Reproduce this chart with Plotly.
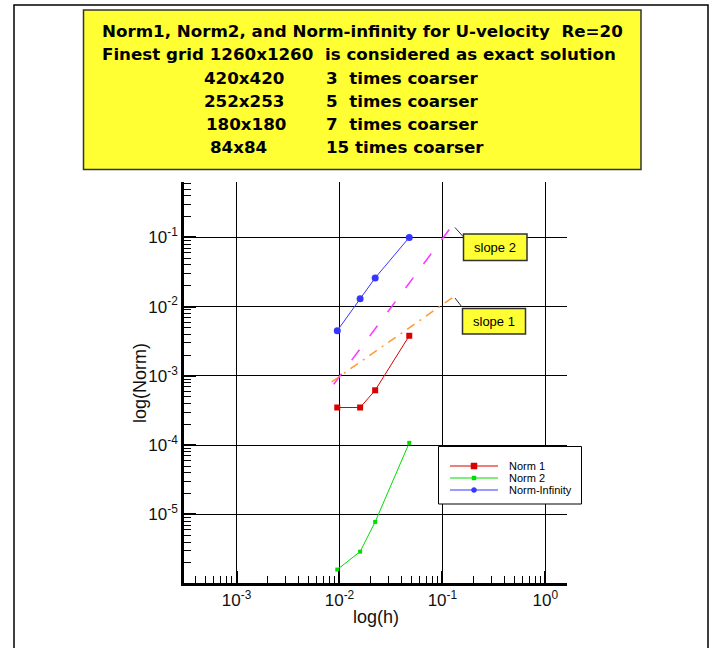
import plotly.graph_objects as go

# ---------------------------------------------------------------------------
# Data: error norms of the U-velocity (Re=20) on four coarse grids,
# measured against the 1260x1260 solution.
# ---------------------------------------------------------------------------
h = [0.00952, 0.01587, 0.02222, 0.04762]          # mesh spacing of the coarse grids
norm1 = [3.5e-4, 3.5e-4, 6.2e-4, 3.8e-3]
norm2 = [1.6e-6, 2.9e-6, 7.8e-6, 1.08e-4]
norm_inf = [4.5e-3, 1.3e-2, 2.6e-2, 1.0e-1]

# Reference slopes (end points)
slope2_h = [0.0088, 0.141]
slope2_y = [7.6e-4, 0.19]
slope1_h = [0.0084, 0.128]
slope1_y = [8.2e-4, 0.0138]

series_names = ["Norm 1", "Norm 2", "Norm-Infinity"]
series_colors = ["#dd0000", "#00dd00", "#3636ff"]
series_symbols = ["square", "square", "circle"]
series_sizes = [6, 4, 7]

x_tickvals = [1e-3, 1e-2, 1e-1, 1e0]
x_ticktext = ["10<sup>-3</sup>", "10<sup>-2</sup>", "10<sup>-1</sup>", "10<sup>0</sup>"]
y_tickvals = [1e-5, 1e-4, 1e-3, 1e-2, 1e-1]
y_ticktext = ["10<sup>-5</sup>", "10<sup>-4</sup>", "10<sup>-3</sup>", "10<sup>-2</sup>", "10<sup>-1</sup>"]

header_lines = [
    "Norm1, Norm2, and Norm-infinity for U-velocity  Re=20",
    "Finest grid 1260x1260  is considered as exact solution",
]
grid_labels = ["420x420", "252x253", "180x180", "84x84"]
coarsening = ["3  times coarser", "5  times coarser", "7  times coarser", "15 times coarser"]

# ---------------------------------------------------------------------------
# Page geometry (pixels) and helpers to turn pixels into paper coordinates
# ---------------------------------------------------------------------------
W, H = 716, 648
L, R, T, B = 184, 567, 182, 583


def fx(px):
    return (px - L) / (R - L)


def fy(py):
    return (B - py) / (B - T)


minor_x = [m * 10.0 ** e for e in range(-4, 1) for m in range(2, 10)]
minor_y = [m * 10.0 ** e for e in range(-7, 0) for m in range(2, 10)]

fig = go.Figure()

# reference slope lines
fig.add_trace(go.Scatter(x=slope2_h, y=slope2_y, mode="lines", showlegend=False,
                         line=dict(color="#ff33ff", width=1.5, dash="13px,17px")))
fig.add_trace(go.Scatter(x=slope1_h, y=slope1_y, mode="lines", showlegend=False,
                         line=dict(color="#ff9933", width=1.5, dash="9px,6px,2px,6px")))

# error norms
for name, ys, col, sym, sz in zip(series_names, [norm1, norm2, norm_inf],
                                  series_colors, series_symbols, series_sizes):
    fig.add_trace(go.Scatter(x=h, y=ys, name=name, mode="lines+markers", showlegend=False,
                             line=dict(color=col, width=1),
                             marker=dict(color=col, symbol=sym, size=sz)))

axis_font = dict(family="Liberation Sans, Arial", size=17, color="#111")

fig.update_xaxes(
    type="log", range=[-3.51, 0.21],
    tickmode="array", tickvals=x_tickvals, ticktext=x_ticktext,
    ticks="inside", ticklen=12, tickwidth=2, tickcolor="black",
    minor=dict(tickmode="array", tickvals=minor_x, ticks="inside", ticklen=7,
               tickwidth=1, tickcolor="black", showgrid=False),
    showgrid=True, gridcolor="black", gridwidth=1,
    showline=True, linecolor="black", linewidth=2.5, mirror=False,
    tickfont=axis_font, zeroline=False,
)
fig.update_yaxes(
    type="log", range=[-5.99, -0.2],
    tickmode="array", tickvals=y_tickvals, ticktext=y_ticktext,
    ticks="inside", ticklen=12, tickwidth=2, tickcolor="black",
    minor=dict(tickmode="array", tickvals=minor_y, ticks="inside", ticklen=7,
               tickwidth=1, tickcolor="black", showgrid=False),
    showgrid=True, gridcolor="black", gridwidth=1,
    showline=True, linecolor="black", linewidth=2.5, mirror=False,
    tickfont=axis_font, zeroline=False,
)

shapes = []
annotations = []

# outer frame
shapes.append(dict(type="rect", xref="paper", yref="paper",
                   x0=fx(14), x1=fx(708), y0=fy(5), y1=fy(720),
                   line=dict(color="black", width=1.5), layer="below"))
# yellow header box
shapes.append(dict(type="rect", xref="paper", yref="paper",
                   x0=fx(83.5), x1=fx(641), y0=fy(10), y1=fy(169.5),
                   fillcolor="#ffff33", line=dict(color="#333333", width=1.5), layer="below"))

head_font = dict(family="DejaVu Sans", size=16.7, color="black", weight="bold")
for txt, py in zip(header_lines, [31, 54]):
    annotations.append(dict(text=txt, xref="paper", yref="paper", x=fx(100), y=fy(py),
                            xanchor="left", yanchor="middle", showarrow=False, font=head_font))
for g, c, py, gx in zip(grid_labels, coarsening, [78, 101, 124, 147], [202, 202, 204, 208]):
    annotations.append(dict(text=g, xref="paper", yref="paper", x=fx(gx), y=fy(py),
                            xanchor="left", yanchor="middle", showarrow=False, font=head_font))
    annotations.append(dict(text=c, xref="paper", yref="paper", x=fx(324), y=fy(py),
                            xanchor="left", yanchor="middle", showarrow=False, font=head_font))

# slope labels with leader lines
slope_font = dict(family="Liberation Sans, Arial", size=13, color="black")
for label, (x0, y0, x1, y1), (lx0, ly0, lx1, ly1) in [
    ("slope 2", (463.5, 234, 527, 260.5), (455, 227.5, 463, 236.5)),
    ("slope 1", (462.5, 308.5, 525.5, 334), (455, 298, 462, 307)),
]:
    shapes.append(dict(type="line", xref="paper", yref="paper",
                       x0=fx(lx0), y0=fy(ly0), x1=fx(lx1), y1=fy(ly1),
                       line=dict(color="#333333", width=1)))
    shapes.append(dict(type="rect", xref="paper", yref="paper",
                       x0=fx(x0), x1=fx(x1), y0=fy(y0), y1=fy(y1),
                       fillcolor="#ffff33", line=dict(color="#333333", width=1.5)))
    annotations.append(dict(text=label, xref="paper", yref="paper",
                            x=fx((x0 + x1) / 2), y=fy((y0 + y1) / 2),
                            xanchor="center", yanchor="middle", showarrow=False, font=slope_font))

# legend box
shapes.append(dict(type="rect", xref="paper", yref="paper",
                   x0=fx(438.5), x1=fx(581.5), y0=fy(446.5), y1=fy(504),
                   fillcolor="white", line=dict(color="black", width=1)))
leg_font = dict(family="Liberation Sans, Arial", size=11, color="black")
for name, col, sym, sz, py in zip(series_names, series_colors, series_symbols,
                                  [6, 4, 5], [466, 478, 490]):
    shapes.append(dict(type="line", xref="paper", yref="paper",
                       x0=fx(450), x1=fx(498), y0=fy(py), y1=fy(py),
                       line=dict(color=col, width=1.2)))
    shapes.append(dict(type="rect" if sym == "square" else "circle", xref="paper", yref="paper",
                       x0=fx(474 - sz / 2), x1=fx(474 + sz / 2),
                       y0=fy(py - sz / 2), y1=fy(py + sz / 2),
                       fillcolor=col, line=dict(color=col, width=0.5)))
    annotations.append(dict(text=name, xref="paper", yref="paper", x=fx(507), y=fy(py),
                            xanchor="left", yanchor="middle", showarrow=False, font=leg_font))

# axis titles
title_font = dict(family="Liberation Sans, Arial", size=18, color="#111")
annotations.append(dict(text="log(h)", xref="paper", yref="paper", x=fx(375.5), y=fy(617),
                        xanchor="center", yanchor="middle", showarrow=False, font=title_font))
annotations.append(dict(text="log(Norm)", xref="paper", yref="paper", x=fx(140), y=fy(383),
                        xanchor="center", yanchor="middle", textangle=-90,
                        showarrow=False, font=title_font))

fig.update_layout(
    width=W, height=H,
    margin=dict(l=L, r=W - R, t=T, b=H - B, pad=0),
    paper_bgcolor="white", plot_bgcolor="white",
    showlegend=False,
    shapes=shapes, annotations=annotations,
)

fig.write_html("out.html")
